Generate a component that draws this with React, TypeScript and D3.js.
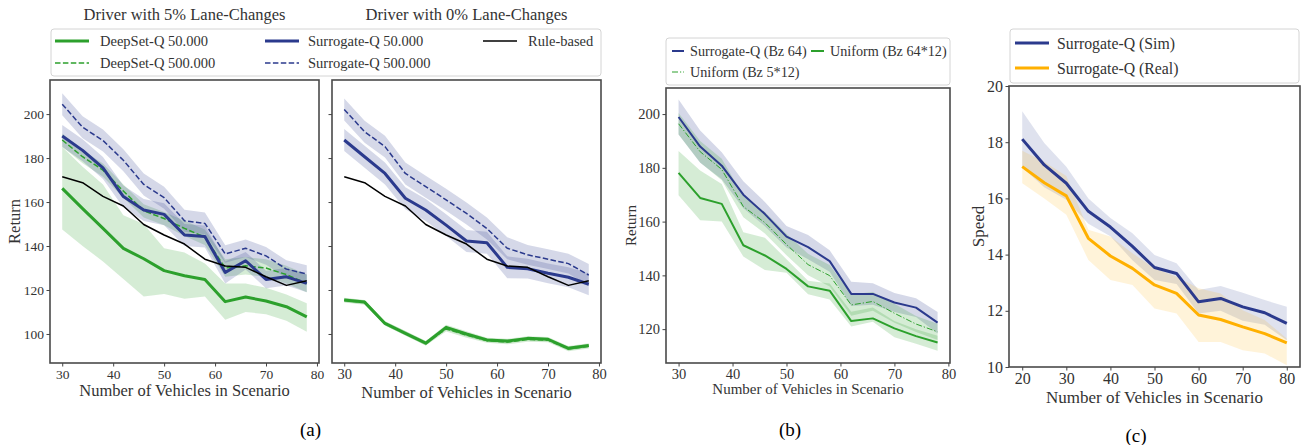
import React, { useEffect, useRef } from "react";
import * as d3 from "d3";

// ---------- data ----------
const vehiclesA = [30, 34, 38, 42, 46, 50, 54, 58, 62, 66, 70, 74, 78];
const vehiclesC = [20, 25, 30, 35, 40, 45, 50, 55, 60, 65, 70, 75, 80];

// (a) driver with 5% lane changes
const deepset50_5 = [166.2, 157, 148, 138.9, 134.2, 128.8, 126.5, 124.8, 114.7, 116.8, 115, 112.4, 107.8];
const deepset50_5Lo = [147.5, 140, 133, 125, 117, 118.2, 116, 117, 106.5, 110, 109, 106, 101];
const deepset50_5Hi = [185, 176, 168, 154, 150, 139, 137, 132, 123, 123, 121, 118, 114];
const deepset500_5 = [188.2, 180.6, 174.5, 165, 156, 152.5, 148, 144, 130, 131, 130, 127, 123];
const deepset500_5Sd = [3, 3, 3, 3, 3, 3, 3.5, 3.5, 4, 4, 4, 4, 4];
const surrogate50_5 = [190, 183.5, 175.5, 162.5, 156.4, 154.4, 145, 144.3, 128, 133.3, 124.8, 126, 123];
const surrogate50_5Sd = [5, 5, 5, 5, 5, 5, 5, 5, 5, 4, 4, 4, 4];
const surrogate500_5 = [204.5, 194, 188, 179, 168, 162, 151.5, 150.3, 136.4, 139, 135.5, 129.5, 127.3];
const surrogate500_5Sd = [5, 5, 5, 5, 5, 5, 5, 5, 4, 4, 4, 4, 4];
const ruleBased = [171.5, 168.8, 162.6, 158.2, 149.8, 145, 140.9, 134, 130.9, 130.3, 126, 122.1, 124.2];

// (a) driver with 0% lane changes
const deepset50_0 = [115.5, 114.5, 104.8, 100.3, 95.8, 103, 100, 97.3, 96.8, 98, 97.6, 93.5, 94.8];
const deepset500_0 = [115.3, 114.3, 104.8, 100.3, 95.8, 102.3, 99.5, 97, 96.3, 97.5, 97.2, 93.2, 94.4];
const deepset_0Sd = [1, 1, 1, 1, 1, 1.2, 1.2, 1, 1, 1, 1, 1, 1];
const surrogate50_0 = [188.2, 180.6, 173, 161.7, 156.4, 149.5, 142.3, 141.5, 130.3, 129.7, 127.6, 125.8, 122.6];
const surrogate500_0 = [202.1, 192, 185.2, 173, 167, 161, 154.8, 148, 139, 136, 134, 132, 126.8];
const surrogate_0Sd = [5, 5, 5, 5, 5, 5, 5, 5, 5, 4.5, 4.5, 4.5, 5];

// (b) batch size
const surrogateBz64 = [198.9, 187.9, 180.8, 170, 162.8, 154.4, 150.5, 145.3, 133.1, 133.1, 129.9, 128, 122.4];
const surrogateBz64Sd = [6.5, 6, 5, 5, 4.5, 4, 4.5, 4, 4.5, 4, 3.5, 3.5, 4];
const uniformBz768 = [178.1, 168.8, 166.6, 151.2, 147.4, 142.4, 135.9, 134.3, 123, 124, 120.3, 117.4, 115];
const uniformBz768Lo = [169.8, 160.5, 160, 147, 142, 141, 133, 131, 121, 122.7, 117, 114.6, 112];
const uniformBz768Hi = [186.3, 179, 174, 156, 154, 146, 138, 137, 126.5, 128, 123, 120, 117.5];
const uniformBz60 = [196.4, 186, 179.4, 165.6, 159.6, 151.5, 144, 139.9, 129, 130.3, 125.9, 121.9, 119];
const uniformBz60Sd = [4, 4, 4, 4, 4, 4, 4, 4, 4, 3.5, 3.5, 3, 3];

// (c) speed
const speedSim = [18.11, 17.19, 16.54, 15.54, 14.98, 14.29, 13.54, 13.33, 12.32, 12.44, 12.14, 11.93, 11.55];
const speedSimLo = [17.1, 16.4, 15.95, 15.1, 14.65, 13.8, 13.1, 12.95, 11.9, 12.0, 11.65, 11.5, 10.95];
const speedSimHi = [19.1, 17.97, 17.13, 16.0, 15.3, 14.76, 13.99, 13.69, 12.74, 12.88, 12.64, 12.38, 12.14];
const speedReal = [17.13, 16.56, 16.09, 14.58, 13.95, 13.51, 12.92, 12.62, 11.85, 11.69, 11.43, 11.19, 10.86];
const speedRealLo = [16.54, 16.0, 15.42, 13.81, 13.1, 12.92, 12.08, 11.9, 10.89, 10.89, 10.6, 10.48, 10.06];
const speedRealHi = [17.7, 17.3, 16.8, 14.88, 14.64, 14.05, 13.51, 13.21, 12.8, 12.62, 12.02, 11.67, 11.01];

const ticksX_A = [30, 40, 50, 60, 70, 80];
const ticksY_A = [100, 120, 140, 160, 180, 200];
const ticksY_B = [120, 140, 160, 180, 200];
const ticksX_C = [20, 30, 40, 50, 60, 70, 80];
const ticksY_C = [10, 12, 14, 16, 18, 20];

const NAVY = "#2b3a8d";
const GREEN = "#2ca02c";
const ORANGE = "#ffb000";
const FONT = "'Liberation Serif', 'Times New Roman', serif";
const TEXT = "#333";

const minus = (a: number[], s: number[]) => a.map((v, i) => v - s[i]);
const plus = (a: number[], s: number[]) => a.map((v, i) => v + s[i]);

type Series = {
  y: number[];
  lo?: number[];
  hi?: number[];
  color: string;
  width: number;
  dash?: string;
  bandOpacity?: number;
};

type PanelCfg = {
  box: [number, number, number, number]; // left, top, right, bottom
  x: number[];
  xDomain: [number, number];
  yDomain: [number, number];
  xTicks: number[];
  yTicks: number[];
  yLabels: boolean;
  tickFont: number;
  labelFont: number;
  xLabel: string;
  xLabelY: number;
  yLabel?: string;
  yLabelX?: number;
  title?: string;
  series: Series[];
};

const panels: PanelCfg[] = [
  {
    box: [50, 80, 319, 363],
    x: vehiclesA,
    xDomain: [27.6, 80.4],
    yDomain: [86.8, 215.5],
    xTicks: ticksX_A,
    yTicks: ticksY_A,
    yLabels: true,
    tickFont: 13.5,
    labelFont: 16.5,
    xLabel: "Number of Vehicles in Scenario",
    xLabelY: 396,
    yLabel: "Return",
    yLabelX: 20,
    title: "Driver with 5% Lane-Changes",
    series: [
      { y: deepset50_5, lo: deepset50_5Lo, hi: deepset50_5Hi, color: GREEN, width: 3 },
      { y: deepset500_5, lo: minus(deepset500_5, deepset500_5Sd), hi: plus(deepset500_5, deepset500_5Sd), color: GREEN, width: 1.5, dash: "5.5,2.4" },
      { y: surrogate50_5, lo: minus(surrogate50_5, surrogate50_5Sd), hi: plus(surrogate50_5, surrogate50_5Sd), color: NAVY, width: 3 },
      { y: surrogate500_5, lo: minus(surrogate500_5, surrogate500_5Sd), hi: plus(surrogate500_5, surrogate500_5Sd), color: NAVY, width: 1.5, dash: "5.5,2.4" },
      { y: ruleBased, color: "#000", width: 1.5 },
    ],
  },
  {
    box: [332, 80, 601, 363],
    x: vehiclesA,
    xDomain: [27.6, 80.4],
    yDomain: [86.8, 215.5],
    xTicks: ticksX_A,
    yTicks: ticksY_A,
    yLabels: false,
    tickFont: 14.5,
    labelFont: 16.5,
    xLabel: "Number of Vehicles in Scenario",
    xLabelY: 398,
    title: "Driver with 0% Lane-Changes",
    series: [
      { y: deepset50_0, lo: minus(deepset50_0, deepset_0Sd), hi: plus(deepset50_0, deepset_0Sd), color: GREEN, width: 3 },
      { y: deepset500_0, lo: minus(deepset500_0, deepset_0Sd), hi: plus(deepset500_0, deepset_0Sd), color: GREEN, width: 1.5, dash: "5.5,2.4" },
      { y: surrogate50_0, lo: minus(surrogate50_0, surrogate_0Sd), hi: plus(surrogate50_0, surrogate_0Sd), color: NAVY, width: 3 },
      { y: surrogate500_0, lo: minus(surrogate500_0, surrogate_0Sd), hi: plus(surrogate500_0, surrogate_0Sd), color: NAVY, width: 1.5, dash: "5.5,2.4" },
      { y: ruleBased, color: "#000", width: 1.5 },
    ],
  },
  {
    box: [666, 88, 950, 363],
    x: vehiclesA,
    xDomain: [27.67, 80.3],
    yDomain: [107.4, 209.7],
    xTicks: ticksX_A,
    yTicks: ticksY_B,
    yLabels: true,
    tickFont: 14.5,
    labelFont: 15,
    xLabel: "Number of Vehicles in Scenario",
    xLabelY: 394,
    yLabel: "Return",
    yLabelX: 636,
    series: [
      { y: surrogateBz64, lo: minus(surrogateBz64, surrogateBz64Sd), hi: plus(surrogateBz64, surrogateBz64Sd), color: NAVY, width: 2 },
      { y: uniformBz768, lo: uniformBz768Lo, hi: uniformBz768Hi, color: GREEN, width: 2 },
      { y: uniformBz60, lo: minus(uniformBz60, uniformBz60Sd), hi: plus(uniformBz60, uniformBz60Sd), color: GREEN, width: 1, dash: "6,2,1.2,2" },
    ],
  },
  {
    box: [1009, 86, 1300, 367],
    x: vehiclesC,
    xDomain: [17, 83],
    yDomain: [10, 20],
    xTicks: ticksX_C,
    yTicks: ticksY_C,
    yLabels: true,
    tickFont: 16,
    labelFont: 17,
    xLabel: "Number of Vehicles in Scenario",
    xLabelY: 403,
    yLabel: "Speed",
    yLabelX: 984,
    series: [
      { y: speedSim, lo: speedSimLo, hi: speedSimHi, color: NAVY, width: 3, bandOpacity: 0.15 },
      { y: speedReal, lo: speedRealLo, hi: speedRealHi, color: ORANGE, width: 3, bandOpacity: 0.15 },
    ],
  },
];

type LegendItem = { label: string; color: string; width: number; dash?: string; hx: number; tx: number; y: number; hw: number };

const legends: { box: [number, number, number, number]; font: number; items: LegendItem[] }[] = [
  {
    box: [51, 29, 601, 76],
    font: 14.5,
    items: [
      { label: "DeepSet-Q 50.000", color: GREEN, width: 3, hx: 55, hw: 34, tx: 100, y: 41 },
      { label: "DeepSet-Q 500.000", color: GREEN, width: 1.5, dash: "5.5,2.4", hx: 55, hw: 34, tx: 100, y: 63 },
      { label: "Surrogate-Q 50.000", color: NAVY, width: 3, hx: 265, hw: 34, tx: 308, y: 41 },
      { label: "Surrogate-Q 500.000", color: NAVY, width: 1.5, dash: "5.5,2.4", hx: 265, hw: 34, tx: 308, y: 63 },
      { label: "Rule-based", color: "#000", width: 1.5, hx: 483, hw: 34, tx: 528, y: 41 },
    ],
  },
  {
    box: [666, 38, 950, 85],
    font: 14.2,
    items: [
      { label: "Surrogate-Q (Bz 64)", color: NAVY, width: 2, hx: 672, hw: 12, tx: 690, y: 51 },
      { label: "Uniform (Bz 64*12)", color: GREEN, width: 2, hx: 811, hw: 13, tx: 830, y: 51 },
      { label: "Uniform (Bz 5*12)", color: GREEN, width: 1, dash: "6,2,1.2,2", hx: 672, hw: 12, tx: 690, y: 72 },
    ],
  },
  {
    box: [1010, 29, 1299, 83],
    font: 15.8,
    items: [
      { label: "Surrogate-Q (Sim)", color: NAVY, width: 3, hx: 1015, hw: 34, tx: 1057, y: 43 },
      { label: "Surrogate-Q (Real)", color: ORANGE, width: 3, hx: 1015, hw: 34, tx: 1057, y: 68 },
    ],
  },
];

const subLabels = [
  { text: "(a)", x: 310.5, y: 436 },
  { text: "(b)", x: 790, y: 436 },
  { text: "(c)", x: 1136, y: 442 },
];

export default function App() {
  const svgRef = useRef<SVGSVGElement | null>(null);

  useEffect(() => {
    const svg = d3.select(svgRef.current);
    svg.selectAll("*").remove();

    panels.forEach((p) => {
      const [l, t, r, b] = p.box;
      const x = d3.scaleLinear().domain(p.xDomain).range([l, r]);
      const y = d3.scaleLinear().domain(p.yDomain).range([b, t]);
      const g = svg.append("g");

      const clipId = "clip" + l;
      g.append("clipPath").attr("id", clipId).append("rect").attr("x", l).attr("y", t).attr("width", r - l).attr("height", b - t);
      const plot = g.append("g").attr("clip-path", `url(#${clipId})`);

      // bands first
      p.series.forEach((s) => {
        if (!s.lo || !s.hi) return;
        const area = d3
          .area<number>()
          .x((_, i) => x(p.x[i]))
          .y0((_, i) => y(s.lo![i]))
          .y1((_, i) => y(s.hi![i]));
        plot
          .append("path")
          .attr("d", area(s.y) as string)
          .attr("fill", s.color)
          .attr("fill-opacity", s.bandOpacity ?? 0.2)
          .attr("stroke", "none");
      });
      p.series.forEach((s) => {
        const line = d3
          .line<number>()
          .x((_, i) => x(p.x[i]))
          .y((d) => y(d));
        plot
          .append("path")
          .attr("d", line(s.y) as string)
          .attr("fill", "none")
          .attr("stroke", s.color)
          .attr("stroke-width", s.width)
          .attr("stroke-dasharray", s.dash ?? null)
          .attr("stroke-linejoin", "round");
      });

      // spines
      g.append("rect")
        .attr("x", l)
        .attr("y", t)
        .attr("width", r - l)
        .attr("height", b - t)
        .attr("fill", "none")
        .attr("stroke", "#4a4a4a")
        .attr("stroke-width", 1.6);

      // x axis
      const xa = g.append("g").attr("transform", `translate(0,${b})`);
      xa.call(
        d3
          .axisBottom(x)
          .tickValues(p.xTicks)
          .tickSize(3.5)
          .tickPadding(2.5)
          .tickFormat(d3.format("d"))
      );
      xa.select(".domain").remove();
      xa.selectAll("line").attr("stroke", "#444");
      xa.selectAll("text").attr("font-family", FONT).attr("font-size", p.tickFont).attr("fill", TEXT);

      // y axis
      const ya = g.append("g").attr("transform", `translate(${l},0)`);
      ya.call(
        d3
          .axisLeft(y)
          .tickValues(p.yTicks)
          .tickSize(3.5)
          .tickPadding(2.5)
          .tickFormat(p.yLabels ? d3.format("d") : () => "")
      );
      ya.select(".domain").remove();
      ya.selectAll("line").attr("stroke", "#444");
      ya.selectAll("text").attr("font-family", FONT).attr("font-size", p.tickFont).attr("fill", TEXT);

      g.append("text")
        .attr("x", (l + r) / 2)
        .attr("y", p.xLabelY)
        .attr("text-anchor", "middle")
        .attr("font-family", FONT)
        .attr("font-size", p.labelFont)
        .attr("fill", TEXT)
        .text(p.xLabel);

      if (p.yLabel) {
        g.append("text")
          .attr("transform", `translate(${p.yLabelX},${(t + b) / 2}) rotate(-90)`)
          .attr("text-anchor", "middle")
          .attr("font-family", FONT)
          .attr("font-size", p.labelFont)
          .attr("fill", TEXT)
          .text(p.yLabel);
      }
      if (p.title) {
        g.append("text")
          .attr("x", (l + r) / 2)
          .attr("y", 20)
          .attr("text-anchor", "middle")
          .attr("font-family", FONT)
          .attr("font-size", 16.5)
          .attr("fill", TEXT)
          .text(p.title);
      }
    });

    legends.forEach((lg) => {
      const [l, t, r, b] = lg.box;
      const g = svg.append("g");
      g.append("rect")
        .attr("x", l)
        .attr("y", t)
        .attr("width", r - l)
        .attr("height", b - t)
        .attr("rx", 3)
        .attr("fill", "#fff")
        .attr("fill-opacity", 0.8)
        .attr("stroke", "#d4d4d4")
        .attr("stroke-width", 1);
      lg.items.forEach((it) => {
        g.append("line")
          .attr("x1", it.hx)
          .attr("x2", it.hx + it.hw)
          .attr("y1", it.y)
          .attr("y2", it.y)
          .attr("stroke", it.color)
          .attr("stroke-width", it.width)
          .attr("stroke-dasharray", it.dash ?? null);
        g.append("text")
          .attr("x", it.tx)
          .attr("y", it.y)
          .attr("dy", "0.35em")
          .attr("font-family", FONT)
          .attr("font-size", lg.font)
          .attr("fill", TEXT)
          .text(it.label);
      });
    });

    subLabels.forEach((s) => {
      svg
        .append("text")
        .attr("x", s.x)
        .attr("y", s.y)
        .attr("text-anchor", "middle")
        .attr("font-family", FONT)
        .attr("font-size", 19)
        .attr("fill", "#000")
        .text(s.text);
    });
  }, []);

  return (
    <svg
      ref={svgRef}
      width={1306}
      height={445}
      style={{ position: "absolute", left: 0, top: 0, background: "#fff" }}
    />
  );
}
